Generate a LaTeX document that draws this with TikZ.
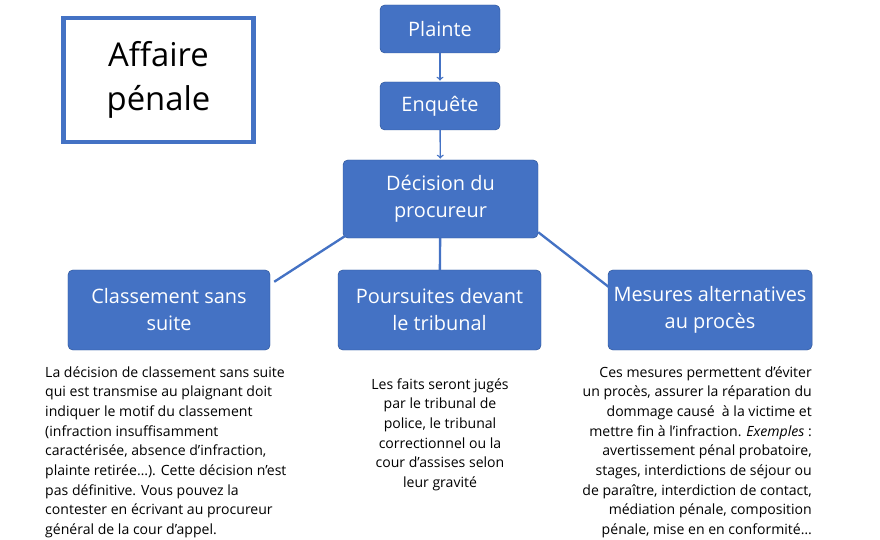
\documentclass[tikz,border=0pt]{standalone}
\usepackage{fontspec}
\setmainfont{Open Sans}
\usetikzlibrary{calc}
\definecolor{boxblue}{HTML}{4472C4}
\definecolor{edgeblue}{HTML}{2F5597}
\tikzset{
  stage/.style={draw=edgeblue,fill=boxblue,rounded corners=4pt,text=white,align=center,
    font=\fontsize{17}{23}\selectfont,inner sep=0pt},
  link/.style={boxblue,line width=2pt},
  note/.style={font=\fontsize{12}{16.8}\selectfont,inner sep=0pt}
}
\begin{document}
\begin{tikzpicture}[x=0.03cm,y=-0.03cm]
    \useasboundingbox (0,0) rectangle (880,540);
    \node (affaire) at (158.5,80) [draw=boxblue,line width=3.5pt,minimum width=5.7cm,minimum height=3.7cm,align=center,font=\fontsize{28}{38}\selectfont] {Affaire\\pénale};
    \node (plainte) at (440,29) [stage,minimum width=3.6cm,minimum height=1.44cm] {Plainte};
    \node (enquete) at (440,106) [stage,minimum width=3.6cm,minimum height=1.44cm] {Enquête};
    \node (decision) at (440.5,199) [stage,minimum width=5.85cm,minimum height=2.34cm] {Décision du\\procureur};
    \node (classement) at (169,310) [stage,minimum width=6.06cm,minimum height=2.4cm] {Classement sans\\suite};
    \node (poursuites) at (439.5,310) [stage,minimum width=6.09cm,minimum height=2.4cm] {Poursuites devant\\le tribunal};
    \node (mesures) at (710,310) [stage,minimum width=6.12cm,minimum height=2.4cm] {Mesures alternatives\\au procès};

    \draw[link,->,line width=1.2pt,shorten >=1pt] (plainte) -- (enquete);
    \draw[link,->,line width=1.2pt,shorten >=1pt] (enquete) -- (decision);
    \draw[link] ($(decision.south west)+(2,-2)$) -- ($(classement.north east)+(4,12)$);
    \draw[link] (decision) -- (poursuites);
    \draw[link] ($(decision.south east)+(0,-6)$) -- ($(mesures.north west)+(2,18)$);

    \node (txtclass) at (45,366) [note,anchor=north west,align=left] {La décision de classement sans suite\\qui est transmise au plaignant doit\\indiquer le motif du classement\\(infraction insuffisamment\\caractérisée, absence d’infraction,\\plainte retirée…). Cette décision n’est\\pas définitive. Vous pouvez la\\contester en écrivant au procureur\\général de la cour d’appel.};
    \node (txtpours) at (440,378) [note,anchor=north,align=center] {Les faits seront jugés\\par le tribunal de\\police, le tribunal\\correctionnel ou la\\cour d’assises selon\\leur gravité};
    \node (txtmes) at (812,366) [note,anchor=north east,align=right] {Ces mesures permettent d’éviter\\un procès, assurer la réparation du\\dommage causé~ à la victime et\\mettre fin à l’infraction. \emph{Exemples} :\\avertissement pénal probatoire,\\stages, interdictions de séjour ou\\de paraître, interdiction de contact,\\médiation pénale, composition\\pénale, mise en en conformité…};
\end{tikzpicture}
\end{document}
